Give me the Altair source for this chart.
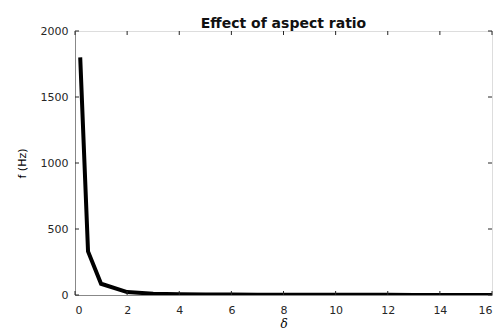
import altair as alt
import pandas as pd

delta = [0.2, 0.5, 1, 2, 3, 4, 5, 6, 7, 8, 9, 10, 11, 12, 13, 14, 15, 16]
freq = [1800, 330, 85, 22, 10, 6, 4, 3, 2.5, 2, 1.6, 1.3, 1.1, 1.0, 0.9, 0.8, 0.7, 0.6]
x_ticks = [0, 2, 4, 6, 8, 10, 12, 14, 16]
y_ticks = [0, 500, 1000, 1500, 2000]

W, H = 417, 264
X_MAX, Y_MAX = 16, 2000
TICK_PX = 4
dy = Y_MAX * TICK_PX / H
dx = X_MAX * TICK_PX / W

df = pd.DataFrame({"delta": delta, "f": freq})
xs = alt.Scale(domain=[0, X_MAX], nice=False)
ys = alt.Scale(domain=[0, Y_MAX], nice=False)

lab = dict(labelFont="DejaVu Sans", labelFontSize=11, labelColor="#262626")

line = alt.Chart(df).mark_line(color="black", strokeWidth=4, clip=True).encode(
    x=alt.X("delta:Q", scale=xs, title="δ",
            axis=alt.Axis(values=x_ticks, ticks=False, grid=False, labelPadding=9, format="d",
                          labelFlush=True, titlePadding=3, titleFontStyle="italic",
                          titleFont="DejaVu Serif", titleFontWeight="normal", titleFontSize=12,
                          **lab)),
    y=alt.Y("f:Q", scale=ys, title="f (Hz)",
            axis=alt.Axis(values=y_ticks, ticks=False, grid=False, labelPadding=7, format="d",
                          titlePadding=13, titleFont="DejaVu Sans", titleFontWeight="normal",
                          titleFontSize=11, **lab)),
)

xt = pd.DataFrame({"t": x_ticks})
yt = pd.DataFrame({"t": y_ticks})
tick_style = dict(color="#262626", strokeWidth=1)

bx = alt.Chart(xt).transform_calculate(y0="0", y1=str(dy)).mark_rule(**tick_style).encode(
    x=alt.X("t:Q", scale=xs), y=alt.Y("y0:Q", scale=ys), y2="y1:Q")
tx = alt.Chart(xt).transform_calculate(y0=str(Y_MAX), y1=str(Y_MAX - dy)).mark_rule(**tick_style).encode(
    x=alt.X("t:Q", scale=xs), y=alt.Y("y0:Q", scale=ys), y2="y1:Q")
ly = alt.Chart(yt).transform_calculate(x0="0", x1=str(dx)).mark_rule(**tick_style).encode(
    y=alt.Y("t:Q", scale=ys), x=alt.X("x0:Q", scale=xs), x2="x1:Q")
ry = alt.Chart(yt).transform_calculate(x0=str(X_MAX), x1=str(X_MAX - dx)).mark_rule(**tick_style).encode(
    y=alt.Y("t:Q", scale=ys), x=alt.X("x0:Q", scale=xs), x2="x1:Q")

chart = alt.layer(line, bx, tx, ly, ry).properties(
    width=W, height=H,
    title=alt.TitleParams("Effect of aspect ratio", font="DejaVu Sans", fontSize=14,
                          fontWeight="bold", color="#111111", anchor="middle", offset=-6),
    autosize=alt.AutoSizeParams(type="none"),
    padding={"left": 67, "top": 23, "right": 1, "bottom": 35},
).configure_view(stroke="#262626", strokeWidth=1).configure_axis(
    domainColor="#262626", titleColor="#262626",
).configure(background="white")

chart.save("out.html", embed_options={"renderer": "svg", "actions": False})
